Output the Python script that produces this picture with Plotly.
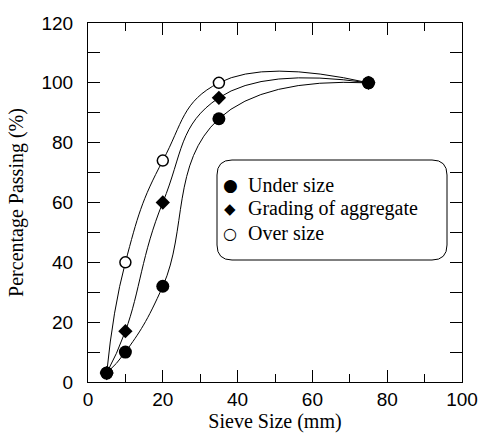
import plotly.graph_objects as go

sieve = [5, 10, 20, 35, 75]
under_size = [3, 10, 32, 88, 100]
grading = [3, 17, 60, 95, 100]
over_size = [3, 40, 74, 100, 100]

x_ticks = [0, 20, 40, 60, 80, 100]
y_ticks = [0, 20, 40, 60, 80, 100, 120]

legend_names = ["Under size", "Grading of aggregate", "Over size"]
legend_glyphs = ["\u25CF", "\u25C6", "\u25CB"]

L, R, T, B = 88, 19, 23, 57
W, H = 481, 439
pw, ph = W - L - R, H - T - B

fig = go.Figure()

line_style = dict(color="black", width=1, shape="spline", smoothing=1.3)

for ys in (over_size, grading, under_size):
    fig.add_trace(go.Scatter(x=sieve, y=ys, mode="lines", line=line_style,
                             showlegend=False, hoverinfo="skip"))

fig.add_trace(go.Scatter(x=sieve, y=over_size, mode="markers", showlegend=False,
                         marker=dict(symbol="circle", size=11, color="white",
                                     line=dict(color="black", width=1.5))))
fig.add_trace(go.Scatter(x=sieve, y=grading, mode="markers", showlegend=False,
                         marker=dict(symbol="diamond", size=11, color="black",
                                     line=dict(width=0))))
fig.add_trace(go.Scatter(x=sieve, y=under_size, mode="markers", showlegend=False,
                         marker=dict(symbol="circle", size=13, color="black",
                                     line=dict(width=0))))

# rounded legend box (pixel -> paper coordinates)
def px_x(p):
    return (p - L) / pw

def px_y(p):
    return (H - B - p) / ph

bx0, bx1, by0, by1 = px_x(217), px_x(447), px_y(260), px_y(160)
rx, ry = 15 / pw, 15 / ph
path = (f"M{bx0+rx},{by0} L{bx1-rx},{by0} Q{bx1},{by0} {bx1},{by0+ry} "
        f"L{bx1},{by1-ry} Q{bx1},{by1} {bx1-rx},{by1} L{bx0+rx},{by1} "
        f"Q{bx0},{by1} {bx0},{by1-ry} L{bx0},{by0+ry} Q{bx0},{by0} {bx0+rx},{by0} Z")
fig.add_shape(type="path", path=path, xref="paper", yref="paper",
              line=dict(color="black", width=1), fillcolor="white", layer="below")

row_y = [185, 209, 233]
glyph_sizes = [17, 15, 16]
for name, glyph, gs, ry_px in zip(legend_names, legend_glyphs, glyph_sizes, row_y):
    fig.add_annotation(x=px_x(230), y=px_y(ry_px), xref="paper", yref="paper",
                       text=f"<b>{glyph}</b>" if glyph == "\u25CB" else glyph,
                       showarrow=False, xanchor="center", yanchor="middle",
                       font=dict(family="DejaVu Sans", size=gs, color="black"))
    fig.add_annotation(x=px_x(246), y=px_y(ry_px), xref="paper", yref="paper",
                       text=name, showarrow=False, xanchor="left", yanchor="middle",
                       font=dict(family="Liberation Serif, Times New Roman", size=20, color="black"))

axis_common = dict(showline=True, linecolor="black", linewidth=1, mirror="allticks",
                   ticks="inside", ticklen=12, tickwidth=1, tickcolor="black",
                   showgrid=False, zeroline=False, automargin=False,
                   tickfont=dict(family="Liberation Sans, Arial", size=19, color="black"),
                   title_font=dict(family="Liberation Serif, Times New Roman", size=20, color="black"))

fig.update_xaxes(range=[0, 100], tickvals=x_ticks, ticktext=[str(v) for v in x_ticks],
                 minor=dict(dtick=10, tick0=0, ticks="inside", ticklen=8, tickcolor="black", showgrid=False),
                 title_text="Sieve Size (mm)", title_standoff=4, **axis_common)
fig.update_yaxes(range=[0, 120], tickvals=y_ticks, ticktext=[str(v) for v in y_ticks],
                 minor=dict(dtick=10, tick0=0, ticks="inside", ticklen=12, tickcolor="black", showgrid=False),
                 ticklabelstandoff=10,
                 title_text="Percentage Passing (%)", title_standoff=12, **axis_common)

fig.update_layout(
    width=W, height=H,
    margin=dict(l=L, r=R, t=T, b=B),
    paper_bgcolor="white", plot_bgcolor="white",
    showlegend=False,
)

fig.write_html("out.html", config={"displayModeBar": False},
               post_script="document.body.style.margin='0';document.body.style.overflow='hidden';")
